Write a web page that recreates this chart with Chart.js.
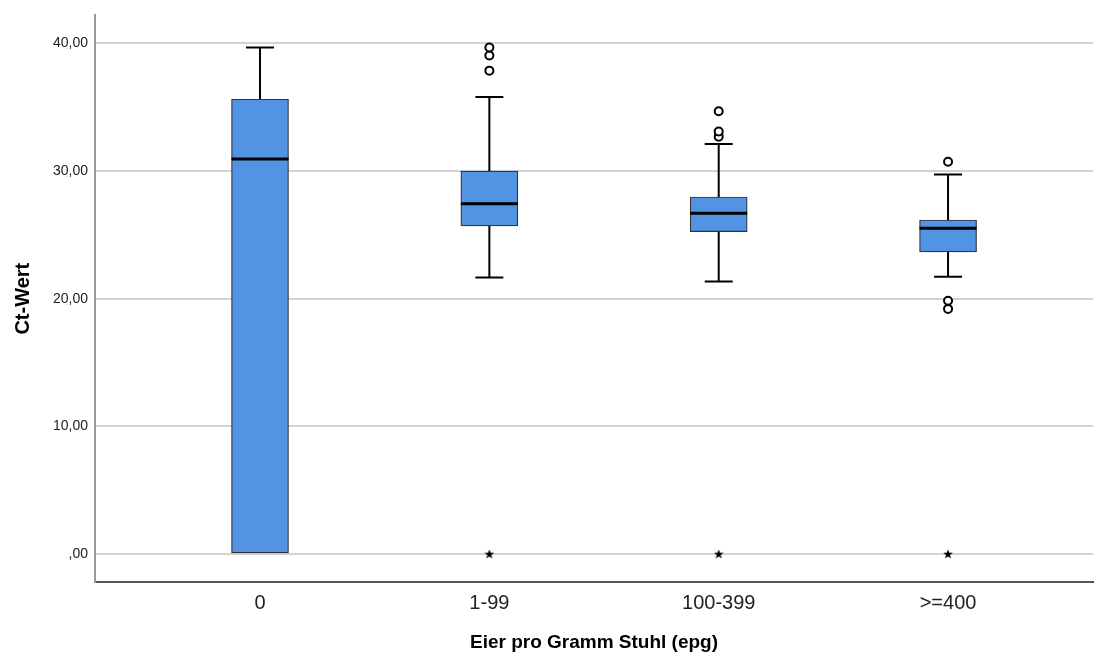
<!DOCTYPE html>
<html>
<head>
<meta charset="utf-8">
<script src="https://cdn.jsdelivr.net/npm/chart.js@4/dist/chart.umd.min.js"></script>
<style>
  html, body { margin: 0; padding: 0; background: #fff; }
</style>
</head>
<body>
<canvas id="boxplot" width="1099" height="660"></canvas>
<script>
const gruppen = ['0', '1-99', '100-399', '>=400'];
const minimum = [0, 21.67, 21.35, 21.72];
const q1 = [0, 25.7, 25.26, 23.67];
const median = [30.94, 27.45, 26.7, 25.52];
const q3 = [35.63, 30.0, 27.97, 26.17];
const maximum = [39.69, 35.8, 32.13, 29.73];
const ausreisser = [[], [37.87, 39.06, 39.69], [32.7, 33.1, 34.69], [19.2, 19.84, 30.73]];
const extremwerte = [[], [0], [0], [0]];
const yTicks = [0, 10, 20, 30, 40];

// kleiner gefuellter Stern fuer Extremwerte
const stern = document.createElement('canvas');
stern.width = 10; stern.height = 10;
(() => {
    const c = stern.getContext('2d');
    c.fillStyle = '#000';
    c.beginPath();
    for (let k = 0; k < 10; k++) {
        const r = k % 2 === 0 ? 5 : 2.1;
        const a = -Math.PI / 2 + k * Math.PI / 5;
        c.lineTo(5 + r * Math.cos(a), 5.4 + r * Math.sin(a));
    }
    c.closePath();
    c.fill();
})();

const punkte = (liste) => liste.flatMap((werte, i) => werte.map(v => ({ x: i, y: v })));

const whiskerPlugin = {
    id: 'whisker',
    beforeDatasetsDraw(chart) {
        const { ctx, scales: { x, y } } = chart;
        ctx.save();
        ctx.strokeStyle = '#000';
        ctx.lineWidth = 2;
        gruppen.forEach((g, i) => {
            const px = x.getPixelForValue(i);
            const seg = (a, b) => {
                if (a === b) return;
                ctx.beginPath();
                ctx.moveTo(px, y.getPixelForValue(a));
                ctx.lineTo(px, y.getPixelForValue(b));
                ctx.moveTo(px - 14, y.getPixelForValue(b));
                ctx.lineTo(px + 14, y.getPixelForValue(b));
                ctx.stroke();
            };
            seg(q3[i], maximum[i]);
            seg(q1[i], minimum[i]);
        });
        ctx.restore();
    },
    afterDatasetsDraw(chart) {
        const { ctx, scales: { x, y } } = chart;
        const bars = chart.getDatasetMeta(0).data;
        ctx.save();
        ctx.strokeStyle = '#000';
        ctx.lineWidth = 3;
        gruppen.forEach((g, i) => {
            const px = x.getPixelForValue(i);
            const w = bars[i].width / 2;
            const py = y.getPixelForValue(median[i]);
            ctx.beginPath();
            ctx.moveTo(px - w, py);
            ctx.lineTo(px + w, py);
            ctx.stroke();
        });
        ctx.restore();
    }
};

const schrift = "'Liberation Sans', Arial, sans-serif";

new Chart(document.getElementById('boxplot'), {
    data: {
        datasets: [
            {
                type: 'bar',
                data: gruppen.map((g, i) => ({ x: i, y: [q1[i], q3[i]] })),
                backgroundColor: 'rgb(83,147,228)',
                borderColor: '#333',
                borderWidth: 1.2,
                borderSkipped: false,
                barThickness: 57,
            },
            {
                type: 'scatter',
                data: punkte(ausreisser),
                pointStyle: 'circle',
                pointRadius: 4,
                pointBorderWidth: 2,
                pointBorderColor: '#000',
                pointBackgroundColor: '#fff',
            },
            {
                type: 'scatter',
                data: punkte(extremwerte),
                pointStyle: stern,
            }
        ]
    },
    options: {
        responsive: false,
        animation: false,
        events: [],
        layout: { padding: { top: 14, right: 0, left: 0, bottom: 0 } },
        plugins: { legend: { display: false }, tooltip: { enabled: false } },
        scales: {
            x: {
                type: 'linear',
                offset: false,
                min: -0.7195,
                max: 3.632,
                afterBuildTicks: s => { s.ticks = gruppen.map((g, i) => ({ value: i })); },
                afterFit: s => { s.height = 78; },
                grid: { display: false, drawTicks: false },
                border: { display: true, color: '#555', width: 2 },
                ticks: {
                    callback: v => gruppen[v] ?? '',
                    font: { family: schrift, size: 20 },
                    color: '#222',
                    padding: 9,
                    maxRotation: 0,
                },
                title: {
                    display: true,
                    text: 'Eier pro Gramm Stuhl (epg)',
                    font: { family: schrift, size: 19, weight: 'bold' },
                    color: '#000',
                    padding: { top: 0, bottom: 6 },
                }
            },
            y: {
                min: -2.2,
                max: 42.2,
                afterBuildTicks: s => { s.ticks = yTicks.map(v => ({ value: v })); },
                afterFit: s => { s.width = 95; },
                grid: { color: '#d2d2d2', lineWidth: 2, drawTicks: false },
                border: { display: true, color: '#9a9a9a', width: 2 },
                ticks: {
                    callback: v => v.toFixed(2).replace('.', ',').replace(/^0/, ''),
                    font: { family: schrift, size: 14 },
                    color: '#222',
                    padding: 7,
                },
                title: {
                    display: true,
                    text: 'Ct-Wert',
                    font: { family: schrift, size: 20, weight: 'bold' },
                    color: '#000',
                    padding: { top: 11, bottom: 0 },
                }
            }
        }
    },
    plugins: [whiskerPlugin]
});
</script>
</body>
</html>
